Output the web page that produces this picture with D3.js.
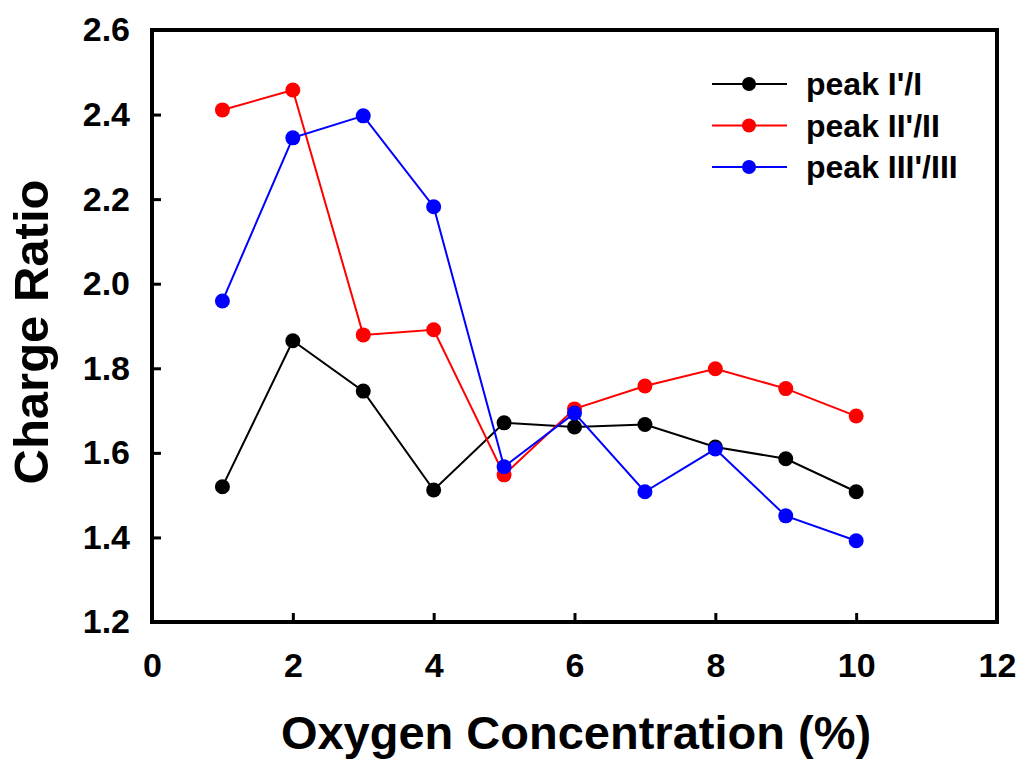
<!DOCTYPE html>
<html>
<head>
<meta charset="utf-8">
<script src="https://cdn.jsdelivr.net/npm/d3@7"></script>
<style>
body { margin: 0; background: #fff; }
text { font-family: "Liberation Sans", Arial, sans-serif; font-weight: bold; }
</style>
</head>
<body>
<svg id="chart" width="1026" height="759"></svg>
<script>
// oxygen concentration (%)
var oxygen = [1, 2, 3, 4, 5, 6, 7, 8, 9, 10];
var peakI = [1.52, 1.865, 1.746, 1.512, 1.671, 1.661, 1.667, 1.614, 1.586, 1.508];
var peakII = [2.411, 2.458, 1.879, 1.891, 1.548, 1.704, 1.758, 1.799, 1.752, 1.687];
var peakIII = [1.959, 2.345, 2.397, 2.182, 1.567, 1.694, 1.508, 1.609, 1.451, 1.392];
var seriesNames = ["peak I'/I", "peak II'/II", "peak III'/III"];
var seriesColors = ["#000000", "#ff0000", "#0000ff"];
var xTicks = [0, 2, 4, 6, 8, 10, 12];
var yTicks = [1.2, 1.4, 1.6, 1.8, 2.0, 2.2, 2.4, 2.6];

var svg = d3.select("#chart");
var plotL = 152, plotR = 997, plotT = 30, plotB = 622;

var x = d3.scaleLinear().domain([0, 12]).range([plotL, plotR]);
var y = d3.scaleLinear().domain([1.2, 2.6]).range([plotB, plotT]);

var allSeries = [peakI, peakII, peakIII];

// frame
svg.append("rect")
    .attr("x", plotL).attr("y", plotT)
    .attr("width", plotR - plotL).attr("height", plotB - plotT)
    .attr("fill", "none").attr("stroke", "#000").attr("stroke-width", 4);

// bottom axis
var xAxis = d3.axisBottom(x).tickValues(xTicks).tickSize(-9).tickPadding(31)
    .tickFormat(d3.format("d"));
var gx = svg.append("g").attr("transform", "translate(0," + plotB + ")").call(xAxis);
gx.select(".domain").remove();
gx.selectAll(".tick line").attr("stroke-width", 3)
    .filter(function(d){ return d == 0 || d == 12; }).remove();
gx.selectAll(".tick text").attr("font-size", 34).attr("fill", "#000")
    .attr("font-family", "Liberation Sans, Arial, sans-serif").attr("font-weight", "bold");

// left axis
var yAxis = d3.axisLeft(y).tickValues(yTicks).tickSize(-9).tickPadding(22)
    .tickFormat(d3.format(".1f"));
var gy = svg.append("g").attr("transform", "translate(" + plotL + ",0)").call(yAxis);
gy.select(".domain").remove();
gy.selectAll(".tick line").attr("stroke-width", 3)
    .filter(function(d){ return d == 1.2 || d == 2.6; }).remove();
gy.selectAll(".tick text").attr("font-size", 34).attr("fill", "#000")
    .attr("font-family", "Liberation Sans, Arial, sans-serif").attr("font-weight", "bold");

// axis titles
svg.append("text").attr("x", 576).attr("y", 749).attr("text-anchor", "middle")
    .attr("font-size", 47).text("Oxygen Concentration (%)");
svg.append("text").attr("transform", "translate(48,332) rotate(-90)")
    .attr("text-anchor", "middle").attr("font-size", 49).text("Charge Ratio");

// lines and points
var line = d3.line()
    .x(function(d, i){ return x(oxygen[i]); })
    .y(function(d){ return y(d); });

allSeries.forEach(function(s, k){
    svg.append("path").datum(s)
        .attr("d", line)
        .attr("fill", "none")
        .attr("stroke", seriesColors[k])
        .attr("stroke-width", 2);
});
allSeries.forEach(function(s, k){
    svg.selectAll(".pt" + k).data(s).enter().append("circle")
        .attr("cx", function(d, i){ return x(oxygen[i]); })
        .attr("cy", function(d){ return y(d); })
        .attr("r", 7.5)
        .attr("fill", seriesColors[k]);
});

// legend
var legend = svg.append("g");
seriesNames.forEach(function(name, k){
    var ly = 84 + k * 41.5;
    legend.append("line").attr("x1", 712).attr("x2", 787)
        .attr("y1", ly).attr("y2", ly)
        .attr("stroke", seriesColors[k]).attr("stroke-width", 2);
    legend.append("circle").attr("cx", 749).attr("cy", ly).attr("r", 7)
        .attr("fill", seriesColors[k]);
    legend.append("text").attr("x", 806).attr("y", ly + 11)
        .attr("font-size", 32).attr("fill", "#000").text(name);
});
</script>
</body>
</html>
